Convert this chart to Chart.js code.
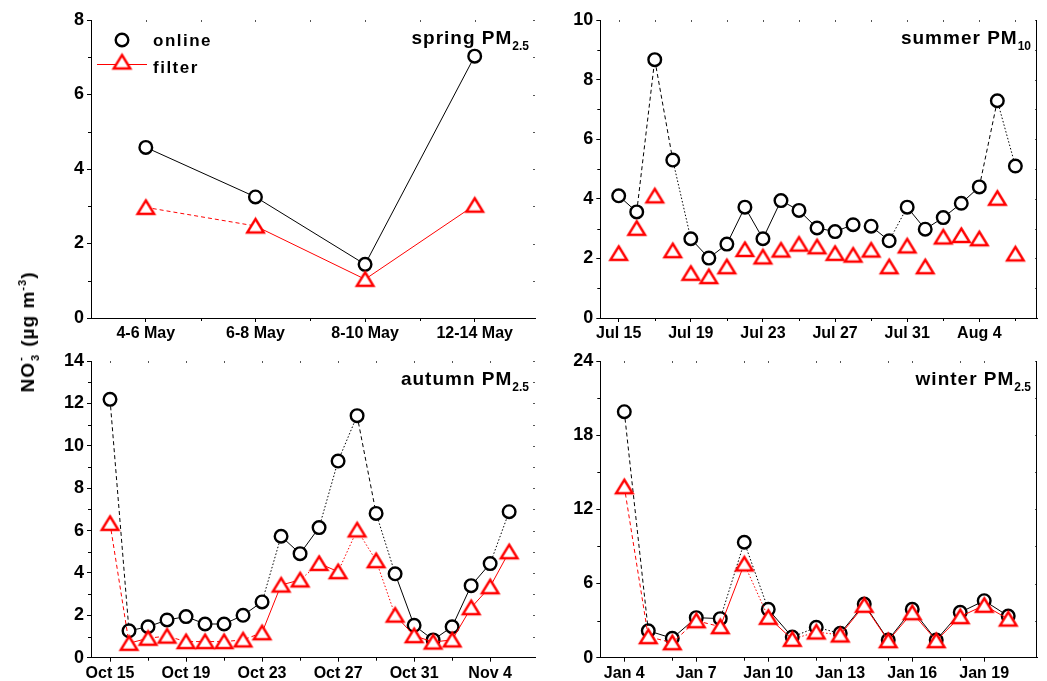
<!DOCTYPE html>
<html>
<head>
<meta charset="utf-8">
<script src="https://cdn.jsdelivr.net/npm/chart.js@4"></script>
<style>
  html, body { margin: 0; padding: 0; background: #fff; }
  body { width: 1047px; height: 681px; position: relative; overflow: hidden; font-family: 'Liberation Sans', Arial, sans-serif; }
  canvas { position: absolute; display: block; }
  #ytitle {
    position: absolute; left: 28px; top: 332px;
    transform: translate(-50%, -50%) rotate(-90deg);
    font-weight: bold; font-size: 19px; line-height: 22px; white-space: nowrap; letter-spacing: 1px;
  }
  #ytitle .ss { position: relative; display: inline-block; width: 9px; height: 10px; font-size: 11px; line-height: 11px; }
  #ytitle .ss .sp { position: absolute; left: 1px; top: -9px; }
  #ytitle .ss .sb { position: absolute; left: 1px; top: 6px; }
  #ytitle sup { font-size: 11px; vertical-align: 8px; line-height: 0; }
</style>
</head>
<body>
<canvas id="spring" width="545" height="345" style="left:0;top:0"></canvas>
<canvas id="summer" width="502" height="345" style="left:545px;top:0"></canvas>
<canvas id="autumn" width="545" height="336" style="left:0;top:345px"></canvas>
<canvas id="winter" width="502" height="336" style="left:545px;top:345px"></canvas>
<div id="ytitle">NO<span class="ss"><span class="sp">-</span><span class="sb">3</span></span> (µg m<sup>-3</sup>)</div>
<script>
// spring PM2.5
const springCats = ['4-6 May', '6-8 May', '8-10 May', '12-14 May'];
const springOnline = [4.58, 3.25, 1.44, 7.03];
const springFilter = [2.97, 2.47, 1.04, 3.03];
const springY = [0, 2, 4, 6, 8];

// summer PM10
const summerDays = ['Jul 15', 'Jul 16', 'Jul 17', 'Jul 18', 'Jul 19', 'Jul 20', 'Jul 21', 'Jul 22',
  'Jul 23', 'Jul 24', 'Jul 25', 'Jul 26', 'Jul 27', 'Jul 28', 'Jul 29', 'Jul 30', 'Jul 31',
  'Aug 1', 'Aug 2', 'Aug 3', 'Aug 4', 'Aug 5', 'Aug 6'];
const summerOnline = [4.10, 3.56, 8.67, 5.30, 2.66, 2.01, 2.48, 3.72, 2.66, 3.94, 3.61, 3.02,
  2.90, 3.13, 3.08, 2.59, 3.72, 2.98, 3.37, 3.85, 4.40, 7.29, 5.10];
const summerFilter = [2.17, 3.01, 4.10, 2.26, 1.50, 1.39, 1.72, 2.30, 2.05, 2.28, 2.48, 2.39,
  2.17, 2.11, 2.28, 1.72, 2.42, 1.72, 2.72, 2.77, 2.66, 4.02, 2.15];
const summerTicks = ['Jul 15', 'Jul 19', 'Jul 23', 'Jul 27', 'Jul 31', 'Aug 4'];
const summerY = [0, 2, 4, 6, 8, 10];

// autumn PM2.5
const autumnDays = ['Oct 15', 'Oct 16', 'Oct 17', 'Oct 18', 'Oct 19', 'Oct 20', 'Oct 21', 'Oct 22',
  'Oct 23', 'Oct 24', 'Oct 25', 'Oct 26', 'Oct 27', 'Oct 28', 'Oct 29', 'Oct 30', 'Oct 31',
  'Nov 1', 'Nov 2', 'Nov 3', 'Nov 4', 'Nov 5'];
const autumnOnline = [12.19, 1.27, 1.46, 1.78, 1.94, 1.59, 1.59, 2.00, 2.63, 5.73, 4.91, 6.14,
  9.28, 11.42, 6.81, 3.96, 1.53, 0.84, 1.46, 3.40, 4.44, 6.89];
const autumnFilter = [6.34, 0.68, 0.92, 1.02, 0.76, 0.76, 0.76, 0.84, 1.18, 3.43, 3.67, 4.45,
  4.06, 6.03, 4.58, 2.01, 1.04, 0.74, 0.84, 2.36, 3.35, 5.00];
const autumnTicks = ['Oct 15', 'Oct 19', 'Oct 23', 'Oct 27', 'Oct 31', 'Nov 4'];
const autumnY = [0, 2, 4, 6, 8, 10, 12, 14];

// winter PM2.5
const winterDays = ['Jan 4', 'Jan 5', 'Jan 6', 'Jan 7', 'Jan 8', 'Jan 9', 'Jan 10', 'Jan 11',
  'Jan 12', 'Jan 13', 'Jan 14', 'Jan 15', 'Jan 16', 'Jan 17', 'Jan 18', 'Jan 19', 'Jan 20'];
const winterOnline = [19.9, 2.18, 1.57, 3.24, 3.16, 9.34, 3.91, 1.67, 2.46, 1.97, 4.34, 1.43,
  3.91, 1.43, 3.67, 4.61, 3.37];
const winterFilter = [13.83, 1.70, 1.21, 2.99, 2.51, 7.58, 3.27, 1.49, 2.08, 1.84, 4.24, 1.38,
  3.64, 1.38, 3.32, 4.24, 3.13];
const winterTicks = ['Jan 4', 'Jan 7', 'Jan 10', 'Jan 13', 'Jan 16', 'Jan 19'];
const winterY = [0, 6, 12, 18, 24];

const FONT = "'Liberation Sans', Arial, sans-serif";

// open red triangle, centred on its bounding box like the original symbols
function triangleImage() {
  const c = document.createElement('canvas');
  c.width = 23; c.height = 21;
  const g = c.getContext('2d');
  g.lineWidth = 2.4;
  g.lineJoin = 'miter';
  g.strokeStyle = '#ff0000';
  g.fillStyle = '#ffffff';
  g.beginPath();
  g.moveTo(11.5, 3.5);
  g.lineTo(19.8, 17);
  g.lineTo(3.2, 17);
  g.closePath();
  g.fill();
  g.stroke();
  return c;
}
const tri = triangleImage();

function drawCircle(ctx, x, y) {
  ctx.beginPath();
  ctx.arc(x, y, 6.3, 0, Math.PI * 2);
  ctx.fillStyle = '#fff';
  ctx.fill();
  ctx.lineWidth = 2.4;
  ctx.strokeStyle = '#000';
  ctx.stroke();
}

const framePlugin = {
  id: 'frame',
  afterDraw(chart, args, o) {
    const { ctx, chartArea: a } = chart;
    const x = chart.scales.x, y = chart.scales.y;
    ctx.save();
    // minor ticks, outside
    ctx.fillStyle = '#000';
    o.yMinor.forEach((v) => ctx.fillRect(a.left - 3, Math.round(y.getPixelForValue(v)), 3, 1));
    o.xMinor.forEach((v) => ctx.fillRect(Math.round(x.getPixelForValue(v)), a.bottom, 1, 3));
    // top and right axes: tick dots only
    ctx.fillStyle = '#555';
    o.xMajor.concat(o.xMinor).forEach((v) => ctx.fillRect(Math.round(x.getPixelForValue(v)), a.top, 1, 2));
    o.yMajor.concat(o.yMinor).forEach((v) => {
      if (v === 0) return;
      ctx.fillRect(a.right - 2, Math.round(y.getPixelForValue(v)), 2, 1);
    });
    if (o.rightLine) {
      ctx.fillStyle = '#000';
      ctx.fillRect(a.right - 1, a.top, 1, a.bottom - a.top);
    }
    // panel title with subscript
    ctx.fillStyle = '#000';
    ctx.textBaseline = 'alphabetic';
    ctx.font = 'bold 12px ' + FONT;
    ctx.letterSpacing = '0px';
    const subW = ctx.measureText(o.sub).width;
    const subX = a.right - 6 - subW;
    ctx.fillText(o.sub, subX, a.top + 30);
    ctx.font = 'bold 19px ' + FONT;
    ctx.letterSpacing = '1px';
    ctx.textAlign = 'right';
    ctx.fillText(o.title, subX, a.top + 24);
    ctx.textAlign = 'left';
    // legend (spring panel only)
    if (o.legend) {
      drawCircle(ctx, 122, 40);
      ctx.fillStyle = '#ff0000';
      ctx.fillRect(97, 64, 50, 1);
      ctx.drawImage(tri, 122 - tri.width / 2, 62 - tri.height / 2);
      ctx.fillStyle = '#000';
      ctx.font = 'bold 17px ' + FONT;
      ctx.letterSpacing = '1.5px';
      ctx.fillText('online', 153, 46);
      ctx.fillText('filter', 153, 73);
    }
    ctx.restore();
  }
};

function segStyle(list, style) {
  return (c) => (list.includes(c.p0DataIndex) ? style : undefined);
}

function makePanel(id, p) {
  const canvas = document.getElementById(id);
  const toXY = (vals) => vals.map((v, i) => ({ x: i, y: v }));
  const xMajor = p.ticks.map((t) => p.cats.indexOf(t));
  new Chart(canvas, {
    type: 'line',
    data: {
      datasets: [
        {
          label: 'filter',
          data: toXY(p.filter),
          showLine: p.filterLine,
          borderColor: '#ff0000',
          borderWidth: 1,
          pointStyle: tri,
          pointRadius: 9,
          order: 0,
          segment: {
            borderDash: (c) => segStyle(p.fDash, [4, 3])(c) || segStyle(p.fDot, [1.5, 2])(c)
          }
        },
        {
          label: 'online',
          data: toXY(p.online),
          borderColor: '#000',
          borderWidth: 1,
          pointStyle: 'circle',
          pointRadius: 6.3,
          pointBorderWidth: 2.4,
          pointBackgroundColor: '#fff',
          pointBorderColor: '#000',
          order: 1,
          segment: {
            borderDash: (c) => segStyle(p.oDash, [4, 3])(c) || segStyle(p.oDot, [1.5, 2])(c),
            borderColor: (c) => (p.oGap.includes(c.p0DataIndex) ? 'rgba(0,0,0,0)' : undefined)
          }
        }
      ]
    },
    options: {
      responsive: false,
      animation: false,
      devicePixelRatio: 1,
      layout: { padding: { left: 0, top: p.top, right: p.right, bottom: 0 } },
      plugins: {
        legend: { display: false },
        tooltip: { enabled: false },
        frame: {
          title: p.title, sub: p.sub, legend: !!p.legend, rightLine: !!p.rightLine,
          xMajor: xMajor, xMinor: p.xMinor, yMajor: p.yTicks, yMinor: p.yMinor
        }
      },
      datasets: { line: { clip: false } },
      scales: {
        x: {
          type: 'linear',
          min: p.xMin,
          max: p.xMax,
          afterBuildTicks: (s) => { s.ticks = xMajor.map((v) => ({ value: v })); },
          afterFit: (s) => { s.height = p.xH; },
          grid: { display: true, drawOnChartArea: false, drawTicks: true, tickLength: 4, color: '#000' },
          border: { display: true, color: '#000', width: 1 },
          ticks: {
            autoSkip: false, maxRotation: 0, padding: 2, color: '#000',
            font: { family: FONT, size: 16, weight: 'bold' },
            callback: (v) => p.cats[v]
          }
        },
        y: {
          min: 0,
          max: p.yTicks[p.yTicks.length - 1],
          afterBuildTicks: (s) => { s.ticks = p.yTicks.map((v) => ({ value: v })); },
          afterFit: (s) => { s.width = p.yW; },
          grid: { display: true, drawOnChartArea: false, drawTicks: true, tickLength: 4, color: '#000' },
          border: { display: true, color: '#000', width: 1 },
          ticks: {
            padding: 3, color: '#000',
            font: { family: FONT, size: 18, weight: 'bold' },
            callback: (v) => String(v)
          }
        }
      }
    },
    plugins: [framePlugin]
  });
}

makePanel('spring', {
  cats: springCats, online: springOnline, filter: springFilter, ticks: springCats,
  xMin: -0.5, xMax: 3.55, xMinor: [0.5, 1.5, 2.5],
  yTicks: springY, yMinor: [1, 3, 5, 7],
  top: 20, right: 8, yW: 91, xH: 27,
  title: 'spring PM', sub: '2.5', legend: true, filterLine: true,
  oDash: [], oDot: [], oGap: [], fDash: [0], fDot: []
});

makePanel('summer', {
  cats: summerDays, online: summerOnline, filter: summerFilter, ticks: summerTicks,
  xMin: -1.02, xMax: 23.2, xMinor: [2, 6, 10, 14, 18, 22],
  yTicks: summerY, yMinor: [1, 3, 5, 7, 9],
  top: 20, right: 1, yW: 55.3, xH: 27, rightLine: true,
  title: 'summer PM', sub: '10', filterLine: false,
  oDash: [1, 2, 20], oDot: [3, 15, 21], oGap: [13], fDash: [], fDot: []
});

makePanel('autumn', {
  cats: autumnDays, online: autumnOnline, filter: autumnFilter, ticks: autumnTicks,
  xMin: -1.0, xMax: 22.36, xMinor: [2, 6, 10, 14, 18],
  yTicks: autumnY, yMinor: [1, 3, 5, 7, 9, 11, 13],
  top: 16, right: 8, yW: 91, xH: 23.3,
  title: 'autumn PM', sub: '2.5', filterLine: true,
  oDash: [0, 13], oDot: [8, 11, 12, 14, 20], oGap: [], fDash: [0, 2, 3, 4, 5, 6, 7], fDot: [10, 12, 13, 14]
});

makePanel('winter', {
  cats: winterDays, online: winterOnline, filter: winterFilter, ticks: winterTicks,
  xMin: -1.0, xMax: 17.2, xMinor: [2, 5, 8, 11, 14],
  yTicks: winterY, yMinor: [3, 9, 15, 21],
  top: 16, right: 1, yW: 55.3, xH: 23.3, rightLine: true,
  title: 'winter PM', sub: '2.5', filterLine: true,
  oDash: [0], oDot: [4, 5, 7, 8], oGap: [], fDash: [0, 1, 2, 3], fDot: [5, 7, 8]
});
</script>
</body>
</html>
